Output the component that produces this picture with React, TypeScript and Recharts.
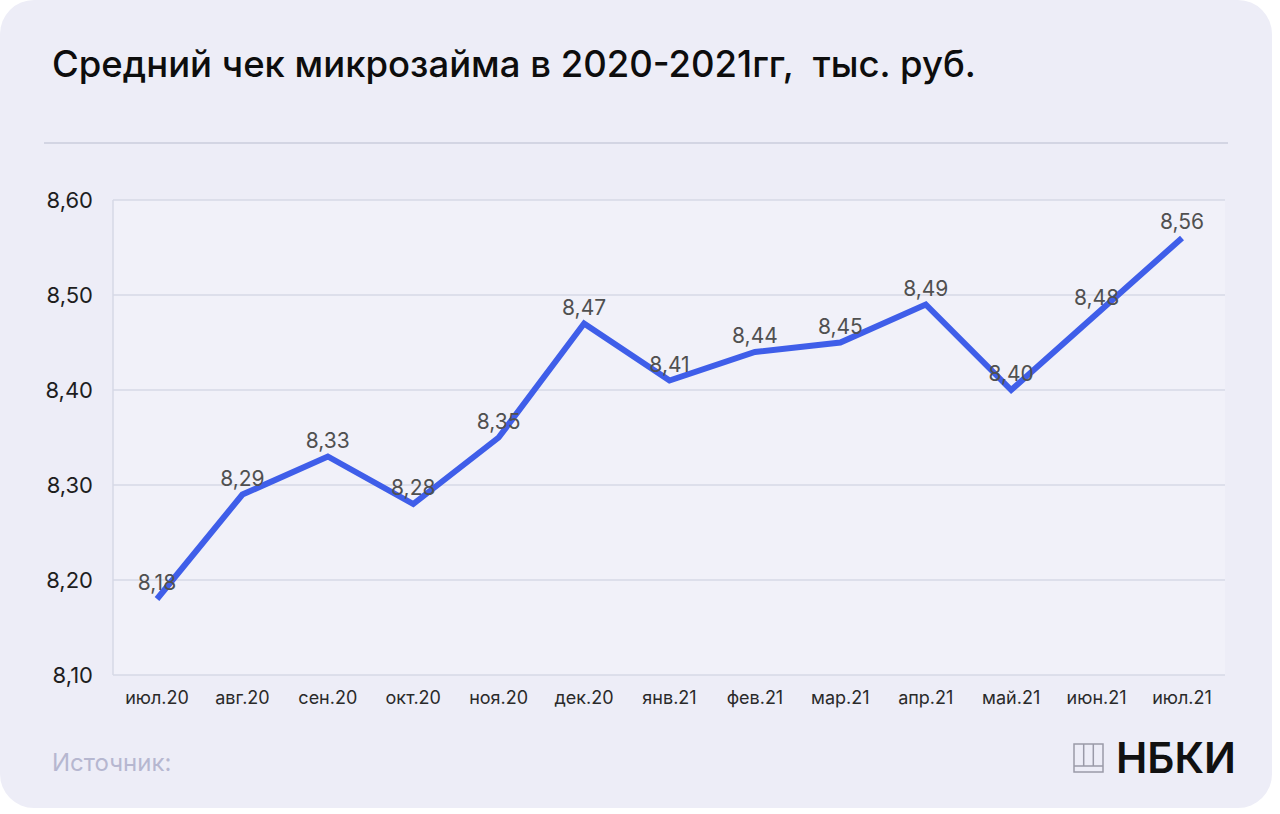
import React from "react";
import {
  LineChart,
  Line,
  XAxis,
  YAxis,
  CartesianGrid,
  LabelList,
} from "recharts";

// месяцы и средний чек, тыс. руб.
const months = [
  "июл.20",
  "авг.20",
  "сен.20",
  "окт.20",
  "ноя.20",
  "дек.20",
  "янв.21",
  "фев.21",
  "мар.21",
  "апр.21",
  "май.21",
  "июн.21",
  "июл.21",
];
const avgCheck = [8.18, 8.29, 8.33, 8.28, 8.35, 8.47, 8.41, 8.44, 8.45, 8.49, 8.4, 8.48, 8.56];
const yTicks = [8.1, 8.2, 8.3, 8.4, 8.5, 8.6];

const data = months.map((m, i) => ({ month: m, value: avgCheck[i] }));

const FONT = "Inter, 'Noto Sans', sans-serif";
const fmt = (v: number) => v.toFixed(2).replace(".", ",");

function Logo() {
  return (
    <div
      style={{
        position: "absolute",
        left: 1073,
        top: 737,
        display: "flex",
        alignItems: "center",
      }}
    >
      <svg width="31" height="32" viewBox="0 0 31 32">
        <rect x="1" y="2" width="29" height="28" fill="none" stroke="#9a9aa8" strokeWidth="1.5" />
        <line x1="10.7" y1="2" x2="10.7" y2="24" stroke="#9a9aa8" strokeWidth="1.5" />
        <line x1="20.3" y1="2" x2="20.3" y2="24" stroke="#9a9aa8" strokeWidth="1.5" />
        <line x1="1" y1="24" x2="30" y2="24" stroke="#9a9aa8" strokeWidth="1.5" />
      </svg>
      <span
        style={{
          marginLeft: 12,
          fontSize: 42,
          fontWeight: 600,
          color: "#111",
          fontFamily: FONT,
          lineHeight: 1,
        }}
      >
        НБКИ
      </span>
    </div>
  );
}

export default function App() {
  return (
    <div
      style={{
        position: "fixed",
        left: 0,
        top: 0,
        width: 1280,
        height: 814,
        background: "#fff",
        fontFamily: FONT,
      }}
    >
      <div
        style={{
          position: "absolute",
          left: 0,
          top: 0,
          width: 1272,
          height: 808,
          borderRadius: 34,
          background: "#ededf7",
        }}
      >
        <div
          style={{
            position: "absolute",
            left: 52,
            top: 42,
            fontSize: 36.5,
            fontWeight: 500,
            color: "#0d0d0d",
            whiteSpace: "pre",
          }}
        >
          {"Средний чек микрозайма в 2020-2021гг,  тыс. руб."}
        </div>
        <div
          style={{
            position: "absolute",
            left: 44,
            top: 142,
            width: 1184,
            height: 2,
            background: "#d3d5e3",
          }}
        />

        <div style={{ position: "absolute", left: 0, top: 0 }}>
          <LineChart
            width={1272}
            height={730}
            data={data}
            margin={{ top: 200, right: 47, bottom: 15, left: 33 }}
          >
            <CartesianGrid vertical={false} stroke="#d6d8e6" strokeWidth={1.5} fill="#f1f1f9" />
            <XAxis
              dataKey="month"
              padding={{ left: 44, right: 43 }}
              axisLine={false}
              tickLine={false}
              tickMargin={10}
              height={40}
              interval={0}
              tick={{ fontSize: 18, fill: "#2a2a2a", fontFamily: FONT }}
            />
            <YAxis
              domain={[8.1, 8.6]}
              ticks={yTicks}
              width={80}
              tickFormatter={fmt}
              axisLine={{ stroke: "#d6d8e6", strokeWidth: 1.5 }}
              tickLine={false}
              tickMargin={14}
              tick={{ fontSize: 22, fill: "#1e1e1e", fontFamily: FONT }}
            />
            <Line
              type="linear"
              dataKey="value"
              stroke="#3f5ee9"
              strokeWidth={6}
              dot={false}
              strokeLinejoin="miter"
              isAnimationActive={false}
            >
              <LabelList
                dataKey="value"
                position="top"
                offset={9}
                formatter={(v: any) => fmt(Number(v))}
                style={{ fontSize: 21, fill: "#505050", fontFamily: FONT }}
              />
            </Line>
          </LineChart>
        </div>

        <div
          style={{
            position: "absolute",
            left: 52,
            top: 748,
            fontSize: 24,
            color: "#b6b7d0",
          }}
        >
          Источник:
        </div>
        <Logo />
      </div>
    </div>
  );
}
